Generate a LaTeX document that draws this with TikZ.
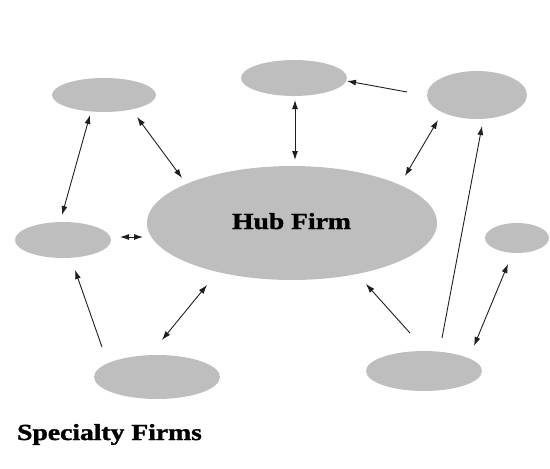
\documentclass[tikz,border=0pt]{standalone}
\usepackage{fontspec}
\setmainfont{Liberation Serif}
\newfontfamily\heavyfont[FakeBold=1.3]{Liberation Serif Bold}
\usetikzlibrary{shapes.geometric,arrows.meta}
\definecolor{ellgray}{RGB}{190,190,190}
\definecolor{arrcol}{RGB}{30,30,30}
\tikzset{
  firm/.style={ellipse, fill=ellgray, draw=none, inner sep=0pt},
  lbl/.style={inner sep=0pt, anchor=base, font=\fontsize{23}{23}\heavyfont},
  conn/.style={draw=arrcol, line width=0.9pt},
  dbl/.style={conn, {Latex[length=9pt,width=6pt]}-{Latex[length=9pt,width=6pt]}},
  sgl/.style={conn, -{Latex[length=9pt,width=6pt]}}
}
\begin{document}
\begin{tikzpicture}[x=1pt,y=-1pt]
\useasboundingbox (0,0) rectangle (550,469);
\node[firm, minimum width=290pt, minimum height=114pt] (hub) at (292,223) {};
\node[firm, minimum width=104pt, minimum height=34pt] (tl) at (104,95) {};
\node[firm, minimum width=106pt, minimum height=36pt] (tm) at (294,78) {};
\node[firm, minimum width=100pt, minimum height=48pt] (tr) at (477,95) {};
\node[firm, minimum width=96pt, minimum height=36pt] (lf) at (63,240) {};
\node[firm, minimum width=64pt, minimum height=30pt] (rt) at (517,238) {};
\node[firm, minimum width=126pt, minimum height=44pt] (bl) at (157,377) {};
\node[firm, minimum width=116pt, minimum height=40pt] (br) at (424,371) {};
\node[lbl] (hubtxt) at (291.5,229) {\scalebox{1.2}[1]{Hub Firm}};
\node[lbl] (spec) at (109.5,440) {\scalebox{1.2}[1]{Specialty Firms}};
% connectors
\draw[dbl] ([shift={(-14,20)}]tl.center) -- ([shift={(-1,-25)}]lf.center);
\draw[dbl] ([shift={(33,22)}]tl.center) -- ([shift={(-110,-45)}]hub.center);
\draw[dbl] ([shift={(57,-3)}]lf.center) -- ([shift={(-149,14)}]hub.center);
\draw[dbl] ([shift={(1,22)}]tm.center) -- ([shift={(3,-63)}]hub.center);
\draw[sgl] ([shift={(-70,-3)}]tr.center) -- ([shift={(53,3)}]tm.center);
\draw[dbl] ([shift={(-39,25)}]tr.center) -- ([shift={(113,-47)}]hub.center);
\draw[sgl] ([shift={(18,-33)}]br.center) -- ([shift={(5,31)}]tr.center);
\draw[dbl] ([shift={(-9,26)}]rt.center) -- ([shift={(50,-25)}]br.center);
\draw[sgl] ([shift={(-14,-38)}]br.center) -- ([shift={(74,61)}]hub.center);
\draw[sgl] ([shift={(-55,-30)}]bl.center) -- ([shift={(12,30)}]lf.center);
\draw[dbl] ([shift={(5,-37)}]bl.center) -- ([shift={(-85,62)}]hub.center);
\end{tikzpicture}
\end{document}
